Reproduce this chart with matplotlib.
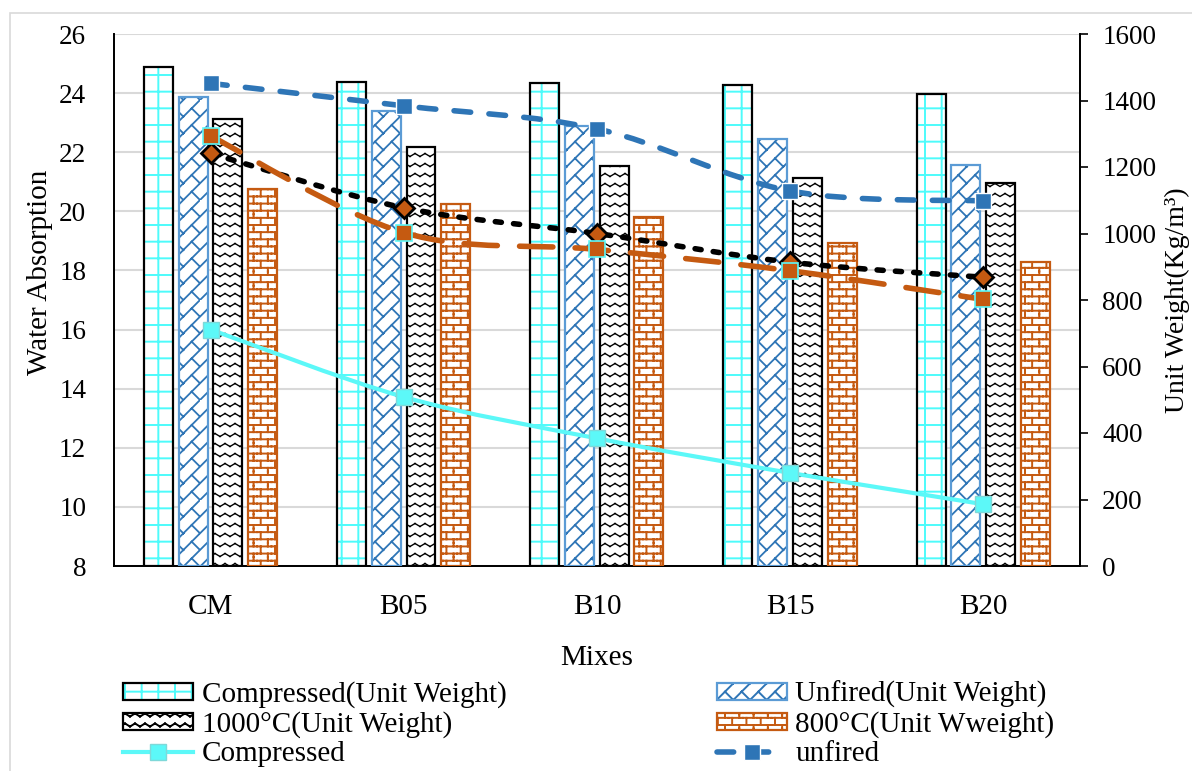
import numpy as np
import matplotlib
matplotlib.use("Agg")
import matplotlib.pyplot as plt
import matplotlib.hatch as mhatch
from matplotlib.path import Path
from matplotlib.patches import PathPatch, Rectangle
from matplotlib.lines import Line2D
import warnings

warnings.filterwarnings("ignore")

mixes = ["CM", "B05", "B10", "B15", "B20"]

# unit weight (Kg/m3), bars on the right axis
uw_compressed = [1500, 1457, 1452, 1446, 1420]
uw_unfired = [1412, 1369, 1323, 1283, 1205]
uw_1000 = [1345, 1259, 1204, 1167, 1151]
uw_800 = [1134, 1089, 1049, 972, 915]

# water absorption, lines on the left axis
wa_compressed = [16.0, 13.72, 12.32, 11.15, 10.09]
wa_unfired = [24.33, 23.57, 22.79, 20.69, 20.35]
wa_1000 = [21.96, 20.12, 19.25, 18.28, 17.77]
wa_800 = [22.55, 19.28, 18.71, 17.99, 17.02]


# --- extra hatch patterns (zigzag, brick, diagonal brick) ---
class TileHatch(mhatch.HatchPatternBase):
    char = None
    scale = 1.0
    segments = []

    def __init__(self, hatch, density):
        self.reps = int(round(hatch.count(self.char) * density * self.scale))
        self.num_vertices = self.reps * self.reps * len(self.segments) * 2

    def set_vertices_and_codes(self, vertices, codes):
        n = self.reps
        seg = np.array(self.segments, float)
        ii, jj = np.meshgrid(np.arange(n), np.arange(n))
        offs = np.stack([ii.ravel(), jj.ravel()], axis=1)
        pts = (seg[None, :, :, :] + offs[:, None, None, :]) / n
        vertices[:] = pts.reshape(-1, 2)
        codes[0::2] = Path.MOVETO
        codes[1::2] = Path.LINETO


class ZigzagHatch(TileHatch):
    char = "z"
    scale = 10 / 6
    segments = [((0.0, 0.35), (0.5, 0.65)), ((0.5, 0.65), (1.0, 0.35))]


class BrickHatch(TileHatch):
    char = "b"
    scale = 7 / 6
    segments = [((0.0, 0.25), (1.0, 0.25)), ((0.0, 0.75), (1.0, 0.75)),
                ((0.25, 0.25), (0.25, 0.75)), ((0.75, 0.75), (0.75, 1.0)),
                ((0.75, 0.0), (0.75, 0.25))]


class DiagBrickHatch(TileHatch):
    char = "d"
    scale = 1.0
    segments = [((0.0, 0.0), (1.0, 1.0)), ((0.5, 0.5), (1.0, 0.0))]


mhatch._hatch_types.extend([ZigzagHatch, BrickHatch, DiagBrickHatch])

plt.rcParams["font.family"] = ["Liberation Serif", "DejaVu Serif"]
plt.rcParams["hatch.linewidth"] = 1.4


def smooth_path(x, y):
    # bezier through the points, same idea as a smoothed spreadsheet line
    p = np.column_stack([x, y]).astype(float)
    n = len(p)
    verts = [p[0]]
    codes = [Path.MOVETO]
    for i in range(n - 1):
        p0 = p[max(i - 1, 0)]
        p3 = p[min(i + 2, n - 1)]
        c1 = p[i] + (p[i + 1] - p0) / 6
        c2 = p[i + 1] - (p3 - p[i]) / 6
        verts += [c1, c2, p[i + 1]]
        codes += [Path.CURVE4] * 3
    return Path(verts, codes)


fig = plt.figure(figsize=(11.92, 7.71), dpi=100)
ax = fig.add_axes([114 / 1192, 1 - 566 / 771, 966 / 1192, 532 / 771])
ax2 = ax.twinx()

x = np.arange(len(mixes))
w = 0.15
offsets = [-0.271, -0.091, 0.089, 0.269]

bar_specs = [
    (uw_compressed, "Compressed(Unit Weight)", "#4DFBFB", "+", "black", 1.4),
    (uw_unfired, "Unfired(Unit Weight)", "#2E75B6", "d", "#5B9BD5", 1.3),
    (uw_1000, "1000°C(Unit Weight)", "black", "z", "black", 1.0),
    (uw_800, "800°C(Unit Wweight)", "#C55A11", "b", "#C55A11", 1.4),
]
bar_handles = []
for (vals, name, hcol, hatch, ecol, hlw), off in zip(bar_specs, offsets):
    fill = ax2.bar(x + off, vals, w, color="white", edgecolor=hcol, hatch=hatch,
                   linewidth=0, zorder=2)
    ax2.bar(x + off, vals, w, fill=False, edgecolor=ecol, linewidth=1.6, zorder=3)
    h1 = Rectangle((0, 0), 1, 1, facecolor="white", edgecolor=hcol, hatch=hatch, linewidth=0)
    h2 = Rectangle((0, 0), 1, 1, fill=False, edgecolor=ecol, linewidth=1.6)
    for p in list(fill) + [h1]:
        if hasattr(p, "set_hatch_linewidth"):
            p.set_hatch_linewidth(hlw)
    bar_handles.append(((h1, h2), name))

# water absorption lines, drawn over the bars using the left axis scale
line_specs = [
    (wa_compressed, "Compressed", dict(color="#5CF8F8", lw=3, ls="-"),
     dict(marker="s", ms=11, mfc="#5CF8F8", mec="#7FD8D8", mew=1)),
    (wa_unfired, "unfired", dict(color="#2E75B6", lw=4, ls=(0, (3.0, 3.3))),
     dict(marker="s", ms=12, mfc="#2E75B6", mec="white", mew=1)),
    (wa_1000, "1000°C", dict(color="black", lw=4, ls=(0, (1.1, 2.2))),
     dict(marker="D", ms=10, mfc="#C55A11", mec="black", mew=2)),
    (wa_800, "800°C", dict(color="#C55A11", lw=4, ls=(0, (6.0, 4.0))),
     dict(marker="s", ms=12, mfc="#C55A11", mec="#5CF8F8", mew=1.2)),
]
line_handles = []
for vals, name, lkw, mkw in line_specs:
    patch = PathPatch(smooth_path(x, vals), transform=ax.transData, fill=False,
                      edgecolor=lkw["color"], linewidth=lkw["lw"], linestyle=lkw["ls"],
                      capstyle="round", zorder=4)
    ax2.add_patch(patch)
    ax2.plot(x, vals, linestyle="none", transform=ax.transData, zorder=5, **mkw)
    line_handles.append((Line2D([], [], color=lkw["color"], lw=lkw["lw"],
                                linestyle=lkw["ls"], dash_capstyle="round", **mkw), name))

ax.set_xlim(-0.5, len(mixes) - 0.5)
ax.set_ylim(8, 26)
ax.set_yticks(np.arange(8, 27, 2))
ax2.set_ylim(0, 1600)
ax2.set_yticks(np.arange(0, 1601, 200))
ax.set_xticks(x)
ax.set_xticklabels(mixes, fontsize=21)
ax.tick_params(axis="x", length=0, pad=20)
ax.tick_params(axis="y", length=0, pad=20, labelsize=19.5)
ax2.tick_params(axis="y", length=6, width=1.2, direction="out", pad=10, labelsize=19.5)

ax.yaxis.grid(True, color="#D9D9D9", linewidth=1.5)
ax.set_axisbelow(True)
for a in (ax, ax2):
    a.spines["top"].set_visible(False)
    for s in ("left", "right", "bottom"):
        a.spines[s].set_linewidth(1.3)

ax.set_xlabel("Mixes", fontsize=21, labelpad=18)
fig.text(40 / 1192, 1 - 272 / 771, "Water Absorption", rotation=90,
         ha="center", va="center", fontsize=21)
fig.text(1177 / 1192, 1 - 300 / 771, "Unit Weight(Kg/m³)", rotation=90,
         ha="center", va="center", fontsize=20)

# light chart border
fig.patches.append(Rectangle((10 / 1192, -0.1), 1.2, 1 - 13 / 771 + 0.1,
                             transform=fig.transFigure, fill=False,
                             edgecolor="#D9D9D9", linewidth=1.2))

handles = [bar_handles[0][0], bar_handles[2][0], line_handles[0][0],
           bar_handles[1][0], bar_handles[3][0], line_handles[1][0]]
labels = [bar_handles[0][1], bar_handles[2][1], line_handles[0][1],
          bar_handles[1][1], bar_handles[3][1], line_handles[1][1]]
fig.legend(handles, labels, ncol=2, loc="upper left",
           bbox_to_anchor=(123 / 1192, 1 - 681 / 771), frameon=False,
           fontsize=21, handlelength=2.4, handleheight=0.5, handletextpad=0.3,
           labelspacing=0.1, columnspacing=7.2, borderaxespad=0, borderpad=0)

fig.savefig("out.png", dpi=100)
